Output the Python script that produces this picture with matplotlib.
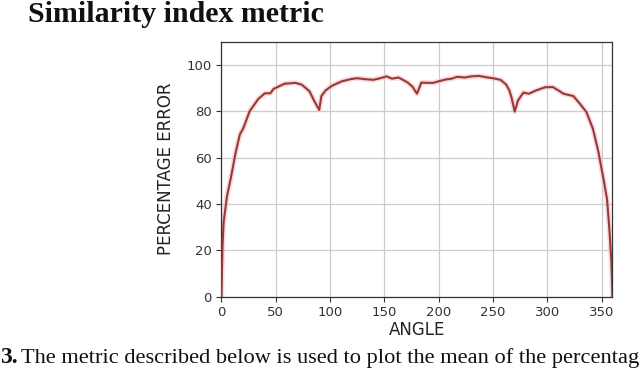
import matplotlib
matplotlib.use("Agg")
import matplotlib.pyplot as plt

angles = [0, 1, 2, 5, 9, 13, 17, 20, 26, 34, 40, 45, 48, 58, 68, 74, 81, 85, 90, 92,
          96, 102, 111, 120, 125, 132, 140, 147, 152, 157, 163, 171, 176, 180, 184,
          190, 195, 201, 207, 212, 217, 224, 230, 237, 244, 250, 257, 262, 265, 267,
          270, 273, 278, 283, 290, 298, 305, 310, 315, 324, 330, 336, 342, 347, 352,
          355, 357, 359, 360]
errors = [0, 22, 32, 43, 52, 62, 70, 72.5, 80, 85.3, 87.7, 87.7, 89.6, 91.8, 92.2, 91.4,
          88.6, 84.8, 80.5, 86.5, 89, 91, 92.9, 93.9, 94.2, 93.8, 93.5, 94.3, 95, 94,
          94.5, 92.5, 90.5, 87.5, 92.3, 92.2, 92.2, 93, 93.7, 94, 94.8, 94.5, 95, 95.2,
          94.6, 94.2, 93.5, 91.5, 89, 86, 79.8, 84.6, 88, 87.5, 89, 90.3, 90.4, 89,
          87.5, 86.5, 83.2, 79.6, 72.4, 62.5, 50, 42, 30, 15, 0]
x_ticks = [0, 50, 100, 150, 200, 250, 300, 350]
y_ticks = [0, 20, 40, 60, 80, 100]

title_text = "Similarity index metric"
caption_num = "3."
caption_text = "The metric described below is used to plot the mean of the percentag"

fig = plt.figure(figsize=(6.4, 3.68), dpi=100)
ax = fig.add_axes([0.346, 0.194, 0.611, 0.693])

ax.plot(angles, errors, color="#f4c4c4", lw=3.8, alpha=0.6, zorder=2)
ax.plot(angles, errors, color="#9a3838", lw=1.5, zorder=3)

ax.set_xlim(0, 360)
ax.set_ylim(0, 110)
ax.set_xticks(x_ticks)
ax.set_yticks(y_ticks)
ax.grid(True, color="#cccccc", lw=0.9)
ax.set_axisbelow(True)
ax.tick_params(labelsize=9.5, colors="#333333", length=3.5, width=0.8)
for s in ax.spines.values():
    s.set_color("#333333")
    s.set_linewidth(0.9)
ax.set_xlabel("ANGLE", fontsize=12, color="#222222", labelpad=1)
ax.set_ylabel("PERCENTAGE ERROR", fontsize=12, color="#222222", labelpad=8)

fig.text(28 / 640, 1 - 22 / 368, title_text, fontsize=21.5, fontweight="bold",
         family="Liberation Serif", color="#111111", ha="left", va="baseline")
fig.text(0.5 / 640, 1 - 363 / 368, caption_num, fontsize=17, fontweight="bold",
         family="Liberation Serif", color="#111111", ha="left", va="baseline")
fig.text(639.5 / 640, 1 - 363 / 368, caption_text, fontsize=16.1,
         family="Liberation Serif", color="#111111", ha="right", va="baseline")

fig.savefig("out.png", dpi=100)
